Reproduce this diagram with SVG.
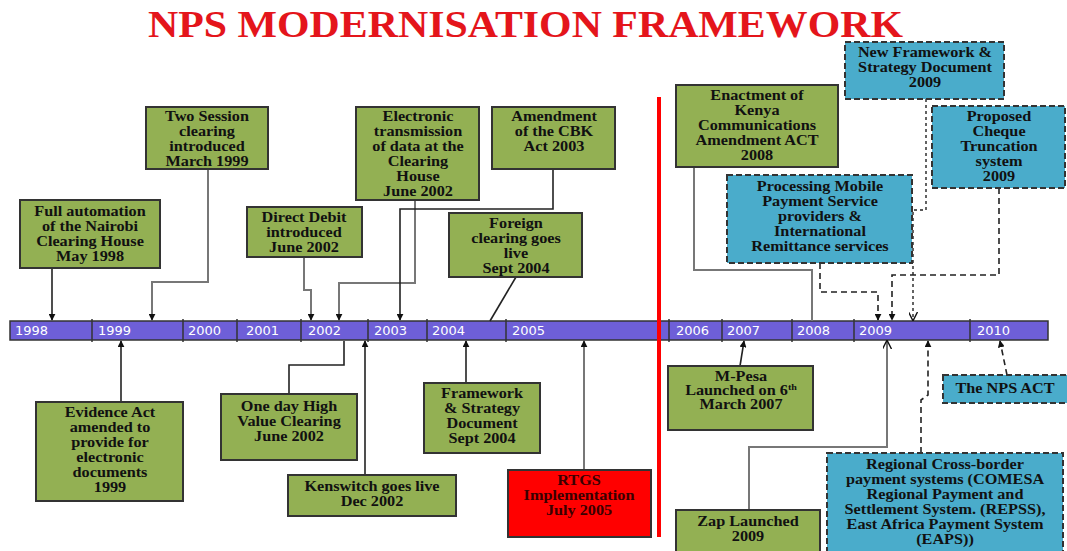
<svg xmlns="http://www.w3.org/2000/svg" width="1067" height="551" viewBox="0 0 1067 551">
<style>
.g{fill:#93b053;stroke:#333;stroke-width:2}
.b{fill:#4aaccb;stroke:#333;stroke-width:2;stroke-dasharray:6 3}
.r{fill:#ff0000;stroke:#333;stroke-width:2}
.t{font-family:"Liberation Serif","Times New Roman",serif;font-weight:bold;font-size:14.5px;fill:#111;text-anchor:middle}
.y{font-family:"DejaVu Sans",Verdana,sans-serif;font-size:13px;fill:#fff}
.c{fill:none;stroke:#222;stroke-width:1.6}
.cg{fill:none;stroke:#777;stroke-width:2}
.cd{fill:none;stroke:#222;stroke-width:1.6;stroke-dasharray:6 4}
.cdot{fill:none;stroke:#222;stroke-width:1.4;stroke-dasharray:3 3}
</style>
<defs>
<marker id="ah" viewBox="0 0 10 10" refX="9" refY="5" markerWidth="7" markerHeight="7" orient="auto" markerUnits="userSpaceOnUse"><path d="M0,0 L10,5 L0,10 z" fill="#111"/></marker>
<marker id="ao" viewBox="0 0 10 10" refX="9" refY="5" markerWidth="9" markerHeight="9" orient="auto" markerUnits="userSpaceOnUse"><path d="M0,0 L10,5 L0,10" fill="none" stroke="#111" stroke-width="1.5"/></marker>
</defs>
<rect width="1067" height="551" fill="#fff"/>
<text x="148" y="37" textLength="755" lengthAdjust="spacingAndGlyphs" font-family="'Liberation Serif','Times New Roman',serif" font-weight="bold" font-size="37" fill="#e4151b">NPS MODERNISATION FRAMEWORK</text>

<g id="timeline">
<rect x="10" y="321" width="1038" height="19" fill="#6e5fd8" stroke="#333" stroke-width="1.5"/>
<g stroke="#333" stroke-width="1.5">
<line x1="92" y1="319" x2="92" y2="342"/><line x1="183" y1="319" x2="183" y2="342"/><line x1="237" y1="319" x2="237" y2="342"/><line x1="301" y1="319" x2="301" y2="342"/><line x1="368" y1="319" x2="368" y2="342"/><line x1="427" y1="319" x2="427" y2="342"/><line x1="506" y1="319" x2="506" y2="342"/><line x1="669" y1="319" x2="669" y2="342"/><line x1="722" y1="319" x2="722" y2="342"/><line x1="792" y1="319" x2="792" y2="342"/><line x1="854" y1="319" x2="854" y2="342"/><line x1="970" y1="319" x2="970" y2="342"/>
</g>
<text class="y" x="15" y="335">1998</text><text class="y" x="98" y="335">1999</text><text class="y" x="188" y="335">2000</text><text class="y" x="246" y="335">2001</text><text class="y" x="308" y="335">2002</text><text class="y" x="374" y="335">2003</text><text class="y" x="432" y="335">2004</text><text class="y" x="512" y="335">2005</text><text class="y" x="676" y="335">2006</text><text class="y" x="727" y="335">2007</text><text class="y" x="797" y="335">2008</text><text class="y" x="859" y="335">2009</text><text class="y" x="977" y="335">2010</text>
</g>
<line id="divider" x1="659" y1="97" x2="659" y2="537" stroke="#ff0000" stroke-width="4"/>

<g id="connectors">
<path class="c" d="M52,268 V320" marker-end="url(#ah)"/>
<path class="cg" d="M208,169 V282 H152 V320" marker-end="url(#ah)"/>
<path class="cg" d="M304,257 V290 H311 V320" marker-end="url(#ah)"/>
<path class="cg" d="M415,200 V283 H339 V320" marker-end="url(#ah)"/>
<path class="c" d="M553,169 V209 H400 V320" marker-end="url(#ah)"/>
<path class="c" d="M516,277 L490,321"/>
<path class="cg" d="M694,167 V270 H812 V321"/>
<path class="cd" d="M820,263 V292 H878 V320" marker-end="url(#ah)"/>
<path class="cd" d="M999,188 V275 H892 V320" marker-end="url(#ah)"/>
<path class="cdot" d="M926,99 V210 H913 V320" marker-end="url(#ao)"/>
<path class="c" d="M121,402 V341" marker-end="url(#ah)"/>
<path class="c" d="M289,394 V365 H344 V341"/>
<path class="c" d="M365,475 V341" marker-end="url(#ah)"/>
<path class="c" d="M466,383 V341" marker-end="url(#ah)"/>
<path class="cg" d="M584,470 V341" marker-end="url(#ah)"/>
<path class="c" d="M740,366 L744,341" marker-end="url(#ah)"/>
<path class="cg" d="M749,510 V447 H887 V341" marker-end="url(#ao)"/>
<path class="cd" d="M921,453 V400 L928,395 V341" marker-end="url(#ah)"/>
<path class="cd" d="M1007,375 L1000,341" marker-end="url(#ah)"/>
</g>

<g id="n1998"><rect class="g" x="20" y="200" width="140" height="68"/>
<text class="t" transform="translate(90 0) scale(1.12 1)"><tspan x="0" y="216">Full automation</tspan><tspan x="0" y="231">of the Nairobi</tspan><tspan x="0" y="246">Clearing House</tspan><tspan x="0" y="261">May 1998</tspan></text></g>

<g id="n1999a"><rect class="g" x="146" y="107" width="122" height="62"/>
<text class="t" transform="translate(207 0) scale(1.12 1)"><tspan x="0" y="121">Two Session</tspan><tspan x="0" y="136">clearing</tspan><tspan x="0" y="151">introduced</tspan><tspan x="0" y="166">March 1999</tspan></text></g>

<g id="n2002a"><rect class="g" x="247" y="207" width="115" height="50"/>
<text class="t" transform="translate(304 0) scale(1.12 1)"><tspan x="0" y="222">Direct Debit</tspan><tspan x="0" y="237">introduced</tspan><tspan x="0" y="252">June 2002</tspan></text></g>

<g id="n2002b"><rect class="g" x="356" y="107" width="123" height="93"/>
<text class="t" transform="translate(418 0) scale(1.12 1)"><tspan x="0" y="121">Electronic</tspan><tspan x="0" y="136">transmission</tspan><tspan x="0" y="151">of data at the</tspan><tspan x="0" y="166">Clearing</tspan><tspan x="0" y="181">House</tspan><tspan x="0" y="196">June 2002</tspan></text></g>

<g id="n2003"><rect class="g" x="492" y="107" width="123" height="62"/>
<text class="t" transform="translate(554 0) scale(1.12 1)"><tspan x="0" y="121">Amendment</tspan><tspan x="0" y="136">of the CBK</tspan><tspan x="0" y="151">Act 2003</tspan></text></g>

<g id="n2004a"><rect class="g" x="449" y="213" width="133" height="64"/>
<text class="t" transform="translate(516 0) scale(1.12 1)"><tspan x="0" y="228">Foreign</tspan><tspan x="0" y="243">clearing goes</tspan><tspan x="0" y="258">live</tspan><tspan x="0" y="273">Sept 2004</tspan></text></g>

<g id="n2008"><rect class="g" x="676" y="85" width="162" height="82"/>
<text class="t" transform="translate(757 0) scale(1.12 1)"><tspan x="0" y="100">Enactment of</tspan><tspan x="0" y="115">Kenya</tspan><tspan x="0" y="130">Communications</tspan><tspan x="0" y="145">Amendment ACT</tspan><tspan x="0" y="160">2008</tspan></text></g>

<g id="n2009a"><rect class="b" x="845" y="42" width="159" height="57"/>
<text class="t" transform="translate(925 0) scale(1.12 1)"><tspan x="0" y="57">New Framework &amp;</tspan><tspan x="0" y="72">Strategy Document</tspan><tspan x="0" y="87">2009</tspan></text></g>

<g id="n2009b"><rect class="b" x="932" y="106" width="133" height="82"/>
<text class="t" transform="translate(999 0) scale(1.12 1)"><tspan x="0" y="121">Proposed</tspan><tspan x="0" y="136">Cheque</tspan><tspan x="0" y="151">Truncation</tspan><tspan x="0" y="166">system</tspan><tspan x="0" y="181">2009</tspan></text></g>

<g id="n2009c"><rect class="b" x="727" y="175" width="185" height="88"/>
<text class="t" transform="translate(820 0) scale(1.12 1)"><tspan x="0" y="191">Processing Mobile</tspan><tspan x="0" y="206">Payment Service</tspan><tspan x="0" y="221">providers &amp;</tspan><tspan x="0" y="236">International</tspan><tspan x="0" y="251">Remittance services</tspan></text></g>

<g id="n1999b"><rect class="g" x="36" y="402" width="147" height="99"/>
<text class="t" transform="translate(110 0) scale(1.12 1)"><tspan x="0" y="417">Evidence Act</tspan><tspan x="0" y="432">amended to</tspan><tspan x="0" y="447">provide for</tspan><tspan x="0" y="462">electronic</tspan><tspan x="0" y="477">documents</tspan><tspan x="0" y="492">1999</tspan></text></g>

<g id="n2002c"><rect class="g" x="221" y="394" width="136" height="66"/>
<text class="t" transform="translate(289 0) scale(1.12 1)"><tspan x="0" y="411">One day High</tspan><tspan x="0" y="426">Value Clearing</tspan><tspan x="0" y="441">June 2002</tspan></text></g>

<g id="n2002d"><rect class="g" x="288" y="475" width="168" height="41"/>
<text class="t" transform="translate(372 0) scale(1.12 1)"><tspan x="0" y="491">Kenswitch goes live</tspan><tspan x="0" y="506">Dec 2002</tspan></text></g>

<g id="n2004b"><rect class="g" x="424" y="383" width="116" height="70"/>
<text class="t" transform="translate(482 0) scale(1.12 1)"><tspan x="0" y="398">Framework</tspan><tspan x="0" y="413">&amp; Strategy</tspan><tspan x="0" y="428">Document</tspan><tspan x="0" y="443">Sept 2004</tspan></text></g>

<g id="n2005"><rect class="r" x="508" y="470" width="143" height="67"/>
<text class="t" style="fill:#3a0000" transform="translate(579 0) scale(1.12 1)"><tspan x="0" y="485">RTGS</tspan><tspan x="0" y="500">Implementation</tspan><tspan x="0" y="515">July 2005</tspan></text></g>

<g id="n2007"><rect class="g" x="668" y="366" width="145" height="64"/>
<text class="t" transform="translate(741 0) scale(1.12 1)"><tspan x="0" y="381">M-Pesa</tspan><tspan x="0" y="395">Launched on 6<tspan font-size="9" dy="-5">th</tspan></tspan><tspan x="0" y="409">March 2007</tspan></text></g>

<g id="n2009d"><rect class="g" x="676" y="510" width="144" height="45"/>
<text class="t" transform="translate(748 0) scale(1.12 1)"><tspan x="0" y="526">Zap Launched</tspan><tspan x="0" y="541">2009</tspan></text></g>

<g id="n2009e"><rect class="b" x="827" y="453" width="236" height="102"/>
<text class="t" transform="translate(945 0) scale(1.12 1)"><tspan x="0" y="469">Regional Cross-border</tspan><tspan x="0" y="484">payment systems (COMESA</tspan><tspan x="0" y="499">Regional Payment and</tspan><tspan x="0" y="514">Settlement System. (REPSS),</tspan><tspan x="0" y="529">East Africa Payment System</tspan><tspan x="0" y="544">(EAPS))</tspan></text></g>

<g id="n2010"><rect class="b" x="943" y="375" width="128" height="28"/>
<text class="t" transform="translate(1005 0) scale(1.12 1)"><tspan x="0" y="393">The NPS ACT</tspan></text></g>
</svg>
